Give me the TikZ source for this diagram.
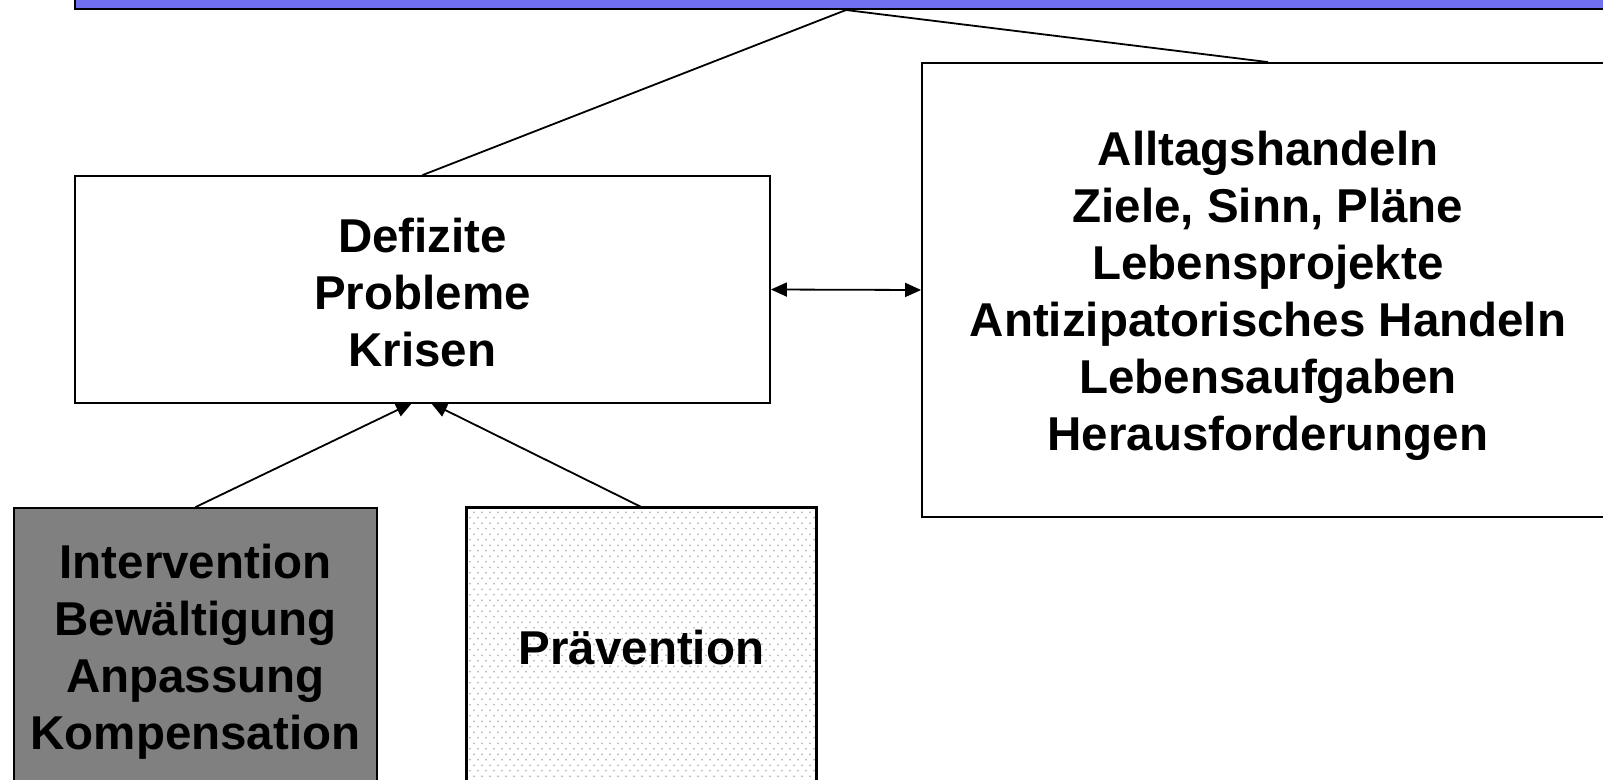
\documentclass[tikz,border=0pt]{standalone}
\usepackage{fontspec}
\setmainfont{Liberation Sans}
\usetikzlibrary{arrows.meta,patterns}
\definecolor{barblue}{RGB}{112,112,240}
\definecolor{boxgray}{RGB}{128,128,128}
\definecolor{dotgray}{RGB}{165,165,165}
\pgfdeclarepatternformonly{mydots}{\pgfqpoint{-1pt}{-1pt}}{\pgfqpoint{8pt}{11pt}}{\pgfqpoint{8pt}{11pt}}{%
  \pgfpathcircle{\pgfqpoint{2pt}{2.75pt}}{0.9pt}
  \pgfpathcircle{\pgfqpoint{6pt}{8.25pt}}{0.9pt}
  \pgfusepath{fill}}
\tikzset{
  box/.style={draw=black, line width=1.8pt, inner sep=0pt},
  lbl/.style={align=center, inner sep=0pt, font=\fontsize{47.5}{57}\selectfont\bfseries},
  conn/.style={draw=black, line width=1.8pt},
  tip/.style={-{Triangle[length=16pt,width=14pt]}},
  dtip/.style={{Triangle[length=16pt,width=14pt]}-{Triangle[length=16pt,width=14pt]}},
}
\begin{document}
\begin{tikzpicture}[x=1pt,y=-1pt]
\useasboundingbox (0,0) rectangle (1603,779);
\fill[white] (0,0) rectangle (1603,779);
% top bar
\node[box, fill=barblue, minimum width=1570pt, minimum height=50pt, anchor=south west] (top) at (74,10) {};
\coordinate (apex) at (846,10);
% boxes
\node[box, fill=white, minimum width=695pt, minimum height=227pt] (def) at (422.5,289.5) {};
\node[lbl, yshift=-3pt] (deftext) at (def.center) {Defizite\\Probleme\\Krisen};
\node[box, fill=white, minimum width=692pt, minimum height=454pt] (right) at (1268,290) {};
\node[lbl, yshift=-6pt] (righttext) at (right.center) {Alltagshandeln\\Ziele, Sinn, Pläne\\Lebensprojekte\\Antizipatorisches Handeln\\Lebensaufgaben\\Herausforderungen};
\node[box, fill=boxgray, minimum width=363pt, minimum height=280pt] (int) at (195.5,648) {};
\node[lbl, yshift=-4pt] (inttext) at (int.center) {Intervention\\Bewältigung\\Anpassung\\Kompensation};
\node[box, fill=white, minimum width=349pt, minimum height=280pt] (prae) at (641.5,648) {};
\fill[pattern=mydots, pattern color=dotgray] ([shift={(1.5pt,-1.5pt)}]prae.south west) rectangle ([shift={(-1.5pt,1.5pt)}]prae.north east);
\draw[line width=1.8pt] (prae.south west) rectangle (prae.north east);
\node[lbl] (praetext) at (prae.center) {Prävention};
% connectors
\coordinate (t1) at (412,403);
\coordinate (t2) at (431,403);
\draw[conn] (apex) -- (def.north);
\draw[conn] (apex) -- (right.north);
\draw[conn, dtip] (def.east) -- (right.west);
\draw[conn, tip] (int.north) -- (t1);
\draw[conn, tip] (prae.north) -- (t2);
\end{tikzpicture}
\end{document}
